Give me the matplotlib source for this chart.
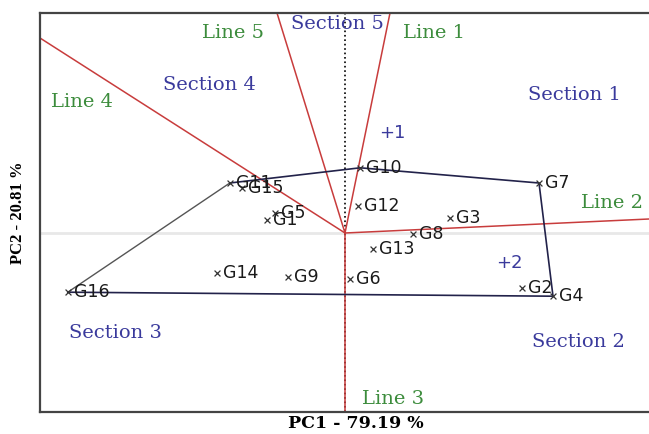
import matplotlib.pyplot as plt

genotypes = ['G1', 'G2', 'G3', 'G4', 'G5', 'G6', 'G7', 'G8',
             'G9', 'G10', 'G11', 'G12', 'G13', 'G14', 'G15', 'G16']
pc1 = [-1.95, 4.43, 2.63, 5.20, -1.75, 0.13, 4.85, 1.70,
       -1.43, 0.38, -2.88, 0.33, 0.70, -3.20, -2.58, -6.93]
pc2 = [0.33, -1.38, 0.38, -1.58, 0.50, -1.15, 1.25, -0.03,
       -1.10, 1.63, 1.25, 0.68, -0.40, -1.00, 1.13, -1.48]

# Convex hull vertices (in order)
hull = ['G16', 'G11', 'G10', 'G7', 'G4', 'G16']

# Sector lines from the origin (end points)
ray_names = ['Line 1', 'Line 2', 'Line 3', 'Line 4', 'Line 5']
ray_x = [1.125, 7.6, 0.0, -7.625, -1.7]
ray_y = [5.5, 0.35, -4.475, 4.875, 5.5]

# Section labels
sections = ['Section 1', 'Section 2', 'Section 3', 'Section 4', 'Section 5']
section_x = [5.73, 5.83, -5.75, -3.38, -0.20]
section_y = [3.45, -2.73, -2.50, 3.70, 5.23]

# Line labels
line_label_x = [2.23, 6.68, 1.20, -6.58, -2.80]
line_label_y = [5.00, 0.75, -4.15, 3.28, 5.00]

# environment markers
env_names = ['+1', '+2']
env_x = [1.18, 4.10]
env_y = [2.50, -0.75]

fig = plt.figure(figsize=(6.49, 4.34), dpi=100)
ax = fig.add_axes([40 / 649, 22 / 434, 609 / 649, 399 / 434])
ax.set_xlim(-7.625, 7.6)
ax.set_ylim(-4.475, 5.5)

# faint horizontal axis and dotted vertical axis
ax.axhline(0, color='#e8e8e8', lw=2, zorder=0)
ax.axvline(0, color='black', lw=1.2, ls=':', zorder=1)

# sector rays
for rx, ry in zip(ray_x, ray_y):
    ax.plot([0, rx], [0, ry], color='#c83c3c', lw=1.1, zorder=2)

# hull
idx = {g: i for i, g in enumerate(genotypes)}
hx = [pc1[idx[g]] for g in hull]
hy = [pc2[idx[g]] for g in hull]
ax.plot(hx[:2], hy[:2], color='#555555', lw=1.0, zorder=3)
ax.plot(hx[1:], hy[1:], color='#22224a', lw=1.2, zorder=3)

# genotypes
ax.scatter(pc1, pc2, marker='x', s=18, color='#333333', linewidths=0.9, zorder=4)
for g, x, y in zip(genotypes, pc1, pc2):
    ax.annotate(g, (x, y), xytext=(4.5, 0), textcoords='offset points',
                ha='left', va='center', fontsize=12.5, color='#1a1a1a',
                family='DejaVu Sans', zorder=5)

for s, x, y in zip(sections, section_x, section_y):
    ax.text(x, y, s, ha='center', va='center', fontsize=14,
            color='#3a3a9c', family='DejaVu Serif')

for s, x, y in zip(ray_names, line_label_x, line_label_y):
    ax.text(x, y, s, ha='center', va='center', fontsize=14,
            color='#3c8c3c', family='DejaVu Serif')

for s, x, y in zip(env_names, env_x, env_y):
    ax.text(x, y, s, ha='center', va='center', fontsize=13,
            color='#3a3a9c', family='DejaVu Sans')

ax.set_xticks([])
ax.set_yticks([])
ax.spines['right'].set_visible(False)
for side in ['left', 'top', 'bottom']:
    ax.spines[side].set_color('#444444')
    ax.spines[side].set_linewidth(1.6)

ax.set_xlabel('PC1 - 79.19 %', fontsize=12.5, fontweight='bold',
              family='DejaVu Serif')
ax.xaxis.set_label_coords(0.519, -0.030)
ax.xaxis.label.set_va('center')
ax.set_ylabel('PC2 - 20.81 %', fontsize=12, fontweight='bold',
              family='Liberation Serif', labelpad=10)

fig.savefig('out.png', dpi=100)
